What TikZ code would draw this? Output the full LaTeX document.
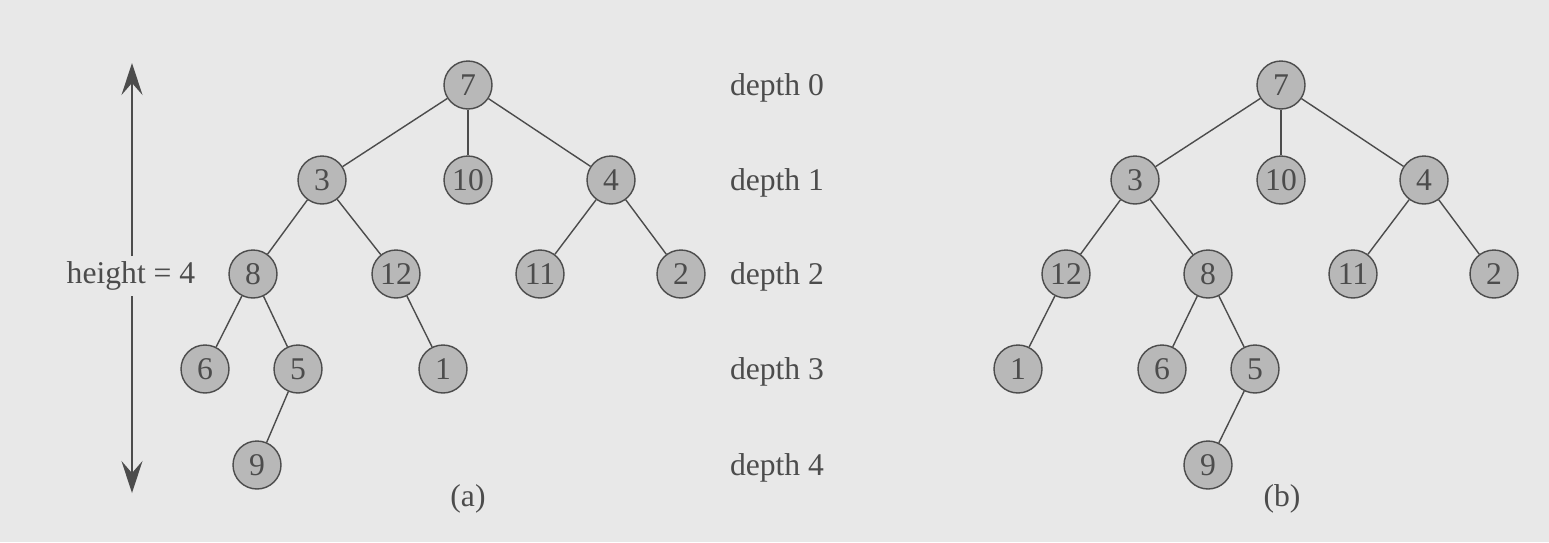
\documentclass[tikz,border=0pt]{standalone}
\usepackage{fontspec}
\setmainfont{Liberation Serif}
\usetikzlibrary{arrows.meta}
\definecolor{bgc}{gray}{0.91}
\definecolor{nodec}{gray}{0.72}
\definecolor{inkc}{gray}{0.30}
\begin{document}
\begin{tikzpicture}[x=0.02cm,y=-0.02cm,
  vtx/.style={circle,draw=inkc,line width=0.8pt,fill=nodec,minimum size=0.96cm,inner sep=0pt,font=\fontsize{18}{18}\selectfont,text=inkc},
  lbl/.style={font=\fontsize{18}{20}\selectfont,text=inkc},
  edge/.style={draw=inkc,line width=0.8pt},
  harrow/.style={draw=inkc,line width=0.8pt,-{Stealth[length=0.64cm,width=0.42cm,inset=0.24cm]}}]
\fill[bgc] (0,0) rectangle (1549,542);
\useasboundingbox (0,0) rectangle (1549,542);
% tree (a)
\node[vtx] (a7) at (468,85) {7};
\node[vtx] (a3) at (322,180) {3};
\node[vtx] (a10) at (468,180) {10};
\node[vtx] (a4) at (611,180) {4};
\node[vtx] (a8) at (253,274) {8};
\node[vtx] (a12) at (396,274) {12};
\node[vtx] (a11) at (540,274) {11};
\node[vtx] (a2) at (681,274) {2};
\node[vtx] (a6) at (205,369) {6};
\node[vtx] (a5) at (298,369) {5};
\node[vtx] (a1) at (443,369) {1};
\node[vtx] (a9) at (257,465) {9};
\draw[edge] (a7) -- (a3);
\draw[edge] (a7) -- (a10);
\draw[edge] (a7) -- (a4);
\draw[edge] (a3) -- (a8);
\draw[edge] (a3) -- (a12);
\draw[edge] (a4) -- (a11);
\draw[edge] (a4) -- (a2);
\draw[edge] (a8) -- (a6);
\draw[edge] (a8) -- (a5);
\draw[edge] (a12) -- (a1);
\draw[edge] (a5) -- (a9);
\node[lbl] (capa) at (468,499) {(a)};
% depth labels
\node[lbl] (d0) at (777,88) {depth 0};
\node[lbl] (d1) at (777,183) {depth 1};
\node[lbl] (d2) at (777,277) {depth 2};
\node[lbl] (d3) at (777,372) {depth 3};
\node[lbl] (d4) at (777,468) {depth 4};
% height arrow
\coordinate (htop) at (132,63);
\coordinate (hbot) at (132,493);
\node[lbl,inner ysep=3pt] (hl) at (131,276) {height = 4};
\draw[harrow] (hl.north -| htop) -- (htop);
\draw[harrow] (hl.south -| hbot) -- (hbot);
% tree (b)
\node[vtx] (b7) at (1281,85) {7};
\node[vtx] (b3) at (1135,180) {3};
\node[vtx] (b10) at (1281,180) {10};
\node[vtx] (b4) at (1424,180) {4};
\node[vtx] (b12) at (1066,274) {12};
\node[vtx] (b8) at (1208,274) {8};
\node[vtx] (b11) at (1353,274) {11};
\node[vtx] (b2) at (1494,274) {2};
\node[vtx] (b1) at (1018,369) {1};
\node[vtx] (b6) at (1162,369) {6};
\node[vtx] (b5) at (1255,369) {5};
\node[vtx] (b9) at (1208,465) {9};
\draw[edge] (b7) -- (b3);
\draw[edge] (b7) -- (b10);
\draw[edge] (b7) -- (b4);
\draw[edge] (b3) -- (b12);
\draw[edge] (b3) -- (b8);
\draw[edge] (b4) -- (b11);
\draw[edge] (b4) -- (b2);
\draw[edge] (b12) -- (b1);
\draw[edge] (b8) -- (b6);
\draw[edge] (b8) -- (b5);
\draw[edge] (b5) -- (b9);
\node[lbl] (capb) at (1282,499) {(b)};
\end{tikzpicture}
\end{document}
